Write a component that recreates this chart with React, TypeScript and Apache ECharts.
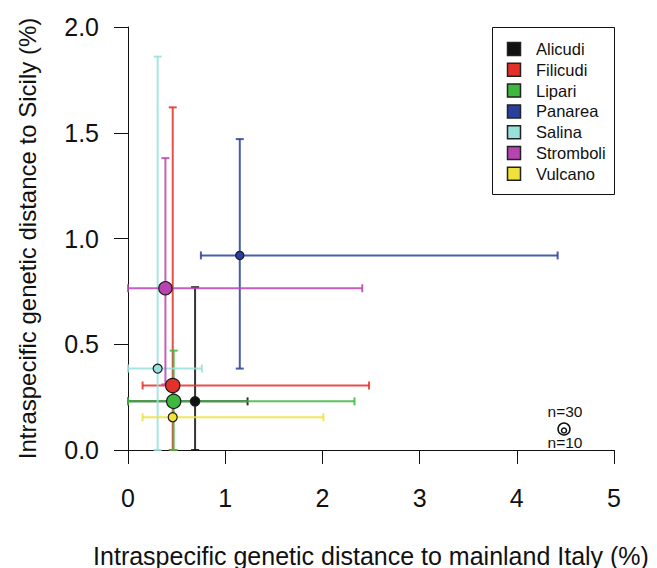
import React, { useEffect, useRef } from 'react';
import * as echarts from 'echarts';

const islands = ['Alicudi', 'Filicudi', 'Lipari', 'Panarea', 'Salina', 'Stromboli', 'Vulcano'];
const colors = ['#111111', '#E3302A', '#3DB83F', '#2B3F9E', '#97E1DA', '#B844B2', '#EFE23A'];
// mean distances (%) and error-bar limits
const xMean = [0.69, 0.46, 0.47, 1.15, 0.305, 0.385, 0.46];
const yMean = [0.23, 0.305, 0.23, 0.92, 0.385, 0.765, 0.155];
const xLow = [0, 0.15, 0, 0.75, 0, 0, 0.15];
const xHigh = [1.23, 2.48, 2.33, 4.42, 0.76, 2.41, 2.01];
const yLow = [0, 0, 0, 0.385, 0, 0.31, 0.155];
const yHigh = [0.77, 1.62, 0.47, 1.47, 1.86, 1.38, 0.155];
// estimated sample sizes (symbol area scales with n)
const nSamples = [13, 30, 30, 10, 12, 26, 12];
const keyLabels = ['n=30', 'n=10'];

const FONT = '"Liberation Sans", Arial, Helvetica, sans-serif';

export default function App() {
  const ref = useRef<HTMLDivElement>(null);
  useEffect(() => {
    if (!ref.current) return;
    const chart = echarts.init(ref.current, null, { renderer: 'svg' });

    const barData = islands.map((_, i) => [xMean[i], yMean[i], xLow[i], xHigh[i], yLow[i], yHigh[i], i]);
    const cap = 4;

    const pointSeries = islands.map((name, i) => ({
      type: 'scatter',
      name,
      data: [[xMean[i], yMean[i]]],
      symbol: 'circle',
      symbolSize: 2.6 * Math.sqrt(nSamples[i]),
      itemStyle: { color: colors[i], borderColor: '#1a1a1a', borderWidth: 1.2, opacity: 1 },
      z: 5,
      silent: true,
    }));

    const legendItems: any[] = [];
    islands.forEach((name, i) => {
      legendItems.push({
        type: 'rect',
        shape: { x: 507.5, y: 42.5 + i * 20.8, width: 13, height: 13 },
        style: { fill: colors[i], stroke: '#222', lineWidth: 1.5 },
      });
      legendItems.push({
        type: 'text',
        x: 536,
        y: 49 + i * 20.8,
        style: { text: name, font: `16.5px ${FONT}`, fill: '#111', verticalAlign: 'middle' },
      });
    });

    chart.setOption({
      animation: false,
      backgroundColor: '#ffffff',
      grid: { left: 128, right: 43, top: 27, bottom: 118, containLabel: false, outerBoundsMode: 'none' },
      xAxis: {
        type: 'value',
        min: 0,
        max: 5,
        interval: 1,
        name: 'Intraspecific genetic distance to mainland Italy (%)',
        nameLocation: 'middle',
        nameGap: 93,
        nameTextStyle: { fontFamily: FONT, fontSize: 25, color: '#111' },
        axisLine: { show: true, onZero: false, lineStyle: { color: '#111', width: 1 } },
        axisTick: { show: true, length: 14, lineStyle: { color: '#111' } },
        axisLabel: { fontFamily: FONT, fontSize: 25, color: '#111', margin: 35 },
        splitLine: { show: false },
      },
      yAxis: {
        type: 'value',
        min: 0,
        max: 2,
        interval: 0.5,
        name: 'Intraspecific genetic distance to Sicily (%)',
        nameLocation: 'middle',
        nameGap: 89,
        nameTextStyle: { fontFamily: FONT, fontSize: 24, color: '#111' },
        axisLine: { show: true, onZero: false, lineStyle: { color: '#111', width: 1 } },
        axisTick: { show: true, length: 14, lineStyle: { color: '#111' } },
        axisLabel: {
          fontFamily: FONT,
          fontSize: 25,
          color: '#111',
          margin: 29,
          formatter: (v: number) => v.toFixed(1),
        },
        splitLine: { show: false },
      },
      series: [
        {
          type: 'custom',
          name: 'errorbars',
          silent: true,
          clip: false,
          z: 2,
          encode: { x: [0, 2, 3], y: [1, 4, 5] },
          data: barData,
          renderItem: (params: any, api: any) => {
            const xm = api.value(0), ym = api.value(1);
            const xl = api.value(2), xh = api.value(3);
            const yl = api.value(4), yh = api.value(5);
            const idx = api.value(6);
            const style = { stroke: colors[idx], lineWidth: 2, opacity: 0.85 };
            const pL = api.coord([xl, ym]);
            const pR = api.coord([xh, ym]);
            const pB = api.coord([xm, yl]);
            const pT = api.coord([xm, yh]);
            const children: any[] = [];
            if (xh > xl) {
              children.push({ type: 'line', shape: { x1: pL[0], y1: pL[1], x2: pR[0], y2: pR[1] }, style });
              children.push({ type: 'line', shape: { x1: pL[0], y1: pL[1] - cap, x2: pL[0], y2: pL[1] + cap }, style });
              children.push({ type: 'line', shape: { x1: pR[0], y1: pR[1] - cap, x2: pR[0], y2: pR[1] + cap }, style });
            }
            if (yh > yl) {
              children.push({ type: 'line', shape: { x1: pB[0], y1: pB[1], x2: pT[0], y2: pT[1] }, style });
              children.push({ type: 'line', shape: { x1: pB[0] - cap, y1: pB[1], x2: pB[0] + cap, y2: pB[1] }, style });
              children.push({ type: 'line', shape: { x1: pT[0] - cap, y1: pT[1], x2: pT[0] + cap, y2: pT[1] }, style });
            }
            return { type: 'group', children };
          },
        },
        ...pointSeries,
      ],
      graphic: [
        {
          type: 'rect',
          shape: { x: 492.5, y: 27.5, width: 122, height: 167 },
          style: { fill: '#fff', stroke: '#111', lineWidth: 1 },
          z: 10,
        },
        ...legendItems.map((e) => ({ ...e, z: 11 })),
        {
          type: 'text',
          x: 565,
          y: 411,
          style: { text: keyLabels[0], font: `15.5px ${FONT}`, fill: '#111', align: 'center', verticalAlign: 'middle' },
          z: 11,
        },
        {
          type: 'circle',
          shape: { cx: 564, cy: 429, r: 6 },
          style: { fill: 'none', stroke: '#111', lineWidth: 1.5 },
          z: 11,
        },
        {
          type: 'circle',
          shape: { cx: 564, cy: 430.5, r: 2.5 },
          style: { fill: 'none', stroke: '#111', lineWidth: 1.5 },
          z: 11,
        },
        {
          type: 'text',
          x: 565,
          y: 442,
          style: { text: keyLabels[1], font: `15.5px ${FONT}`, fill: '#111', align: 'center', verticalAlign: 'middle' },
          z: 11,
        },
      ],
    });
    return () => chart.dispose();
  }, []);
  return (
    <div
      ref={ref}
      style={{ position: 'absolute', left: 0, top: 0, width: 657, height: 568, background: '#fff' }}
    />
  );
}
